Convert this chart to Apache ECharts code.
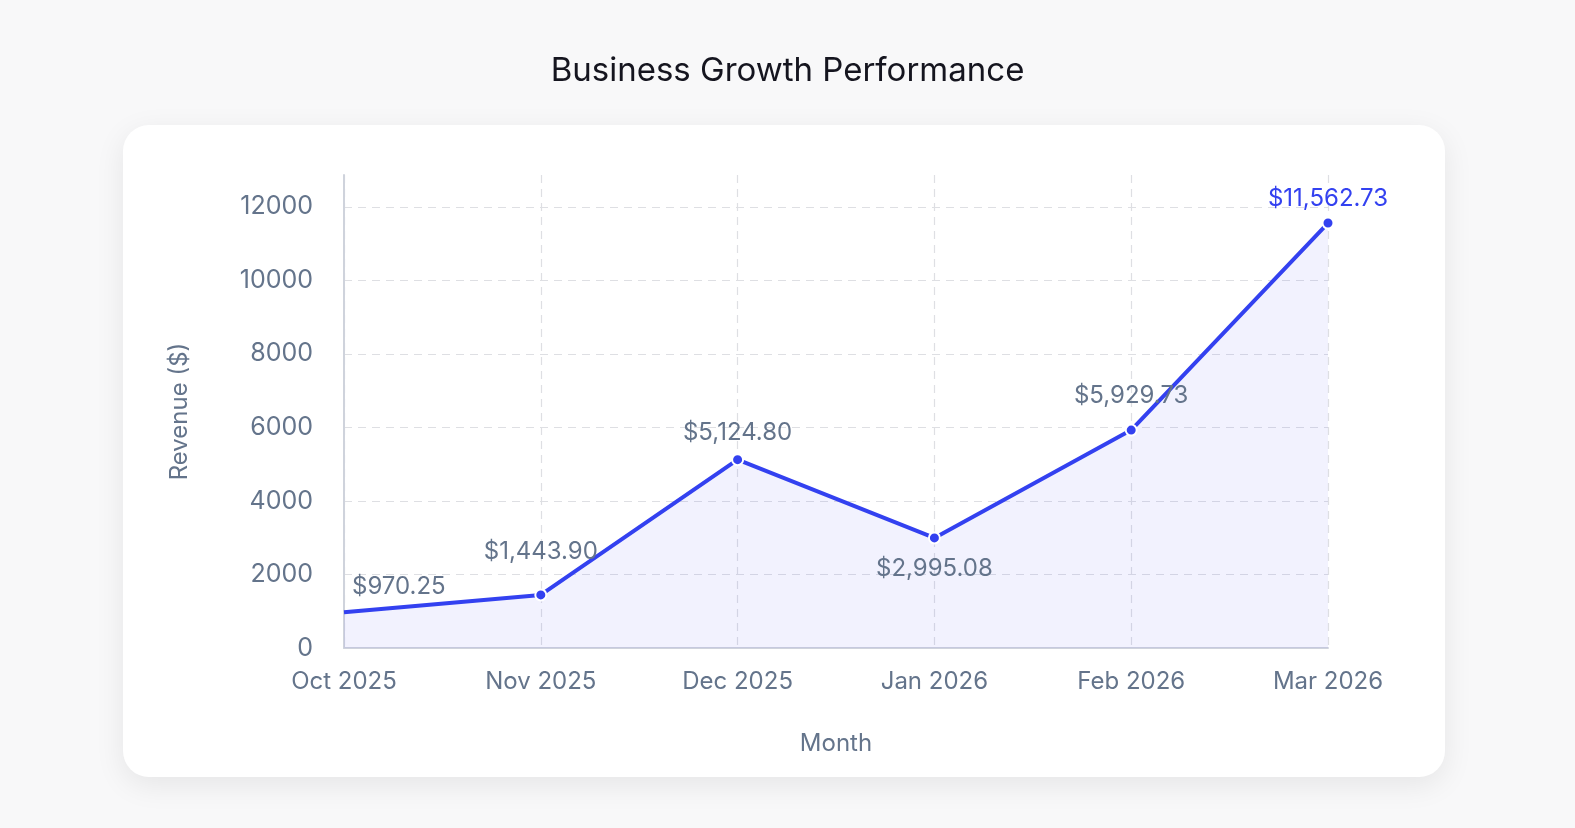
<!DOCTYPE html>
<html>
<head>
<meta charset="utf-8">
<title>Business Growth Performance</title>
<script src="https://cdn.jsdelivr.net/npm/echarts@6/dist/echarts.min.js"></script>
<style>
  html, body { margin: 0; padding: 0; background: #f8f8f9; }
  #chart { width: 1575px; height: 828px; }
</style>
</head>
<body>
<div id="chart"></div>
<script>
var months = ['Oct 2025', 'Nov 2025', 'Dec 2025', 'Jan 2026', 'Feb 2026', 'Mar 2026']
var revenue = [970.25, 1443.90, 5124.80, 2995.08, 5929.73, 11562.73]
var yTicks = [0, 2000, 4000, 6000, 8000, 10000, 12000]

var FONT = 'Inter, "Noto Sans", sans-serif'
var BLUE = '#3341f0'
var SLATE = '#64748b'

function money(v) {
	return '$' + v.toLocaleString('en-US', { minimumFractionDigits: 2, maximumFractionDigits: 2 })
}

// label placement per point (the chart nudges them around a bit), last one highlighted
var labelPos = [
	{ position: 'top', align: 'left', offset: [8, 0], distance: 14 },
	{ position: 'top', distance: 25 },
	{ position: 'top', distance: 8 },
	{ position: 'bottom', distance: 12 },
	{ position: 'top', distance: 16 },
	{ position: 'top', distance: 6, color: BLUE }
]

var points = revenue.map(function (v, i) {
	return {
		value: v,
		symbolSize: i === 0 ? 0 : 11,
		label: labelPos[i]
	}
})

var myChart = echarts.init(document.getElementById('chart'))

var option = {
	backgroundColor: '#f8f8f9',
	animation: false,
	title: {
		text: 'Business Growth Performance',
		left: 'center',
		top: 50,
		textStyle: { fontFamily: FONT, fontSize: 33, fontWeight: 400, color: '#15151f' }
	},
	graphic: [{
		type: 'rect',
		z: -10,
		silent: true,
		shape: { x: 123, y: 125, width: 1322, height: 652, r: 26 },
		style: {
			fill: '#ffffff',
			shadowBlur: 30,
			shadowColor: 'rgba(0,0,0,0.08)',
			shadowOffsetY: 8
		}
	}],
	grid: { left: 344, right: 247, top: 175, bottom: 180 },
	xAxis: {
		type: 'category',
		data: months,
		boundaryGap: false,
		name: 'Month',
		nameLocation: 'middle',
		nameGap: 84,
		nameTextStyle: { fontFamily: FONT, fontSize: 24, color: SLATE },
		axisLine: { lineStyle: { color: '#cfd3dc', width: 2 } },
		axisTick: { show: false },
		axisLabel: { fontFamily: FONT, fontSize: 24, color: SLATE, margin: 22 },
		splitLine: { show: true, lineStyle: { color: '#dedfe3', type: [8, 6], width: 1.2 } }
	},
	yAxis: {
		type: 'value',
		min: 0,
		max: 12870,
		interval: 2000,
		name: 'Revenue ($)',
		nameLocation: 'middle',
		nameGap: 152,
		nameTextStyle: { fontFamily: FONT, fontSize: 24, color: SLATE },
		axisLine: { show: true, lineStyle: { color: '#cfd3dc', width: 2 } },
		axisTick: { show: false },
		axisLabel: {
			fontFamily: FONT, fontSize: 25, color: SLATE, margin: 31,
			showMaxLabel: false,
			formatter: function (v) { return yTicks.indexOf(v) >= 0 ? String(v) : '' }
		},
		splitLine: { show: true, showMaxLine: false, lineStyle: { color: '#dedfe3', type: [8, 6], width: 1.2 } }
	},
	series: [{
		type: 'line',
		data: points,
		symbol: 'circle',
		showSymbol: true,
		lineStyle: { color: BLUE, width: 4 },
		itemStyle: { color: BLUE, borderColor: '#ffffff', borderWidth: 2 },
		areaStyle: { color: 'rgba(110,110,240,0.12)' },
		label: {
			show: true,
			fontFamily: FONT,
			fontSize: 24,
			color: SLATE,
			formatter: function (p) { return money(p.value) }
		}
	}]
}

myChart.setOption(option, true)
</script>
</body>
</html>
